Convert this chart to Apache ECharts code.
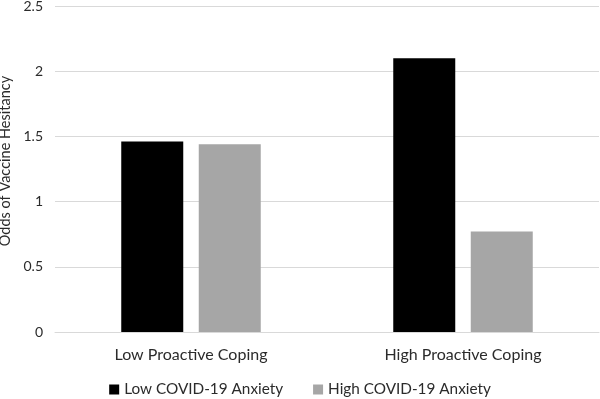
<!DOCTYPE html>
<html><head><meta charset="utf-8">
<script src="https://cdn.jsdelivr.net/npm/echarts@6/dist/echarts.min.js"></script>
<style>html,body{margin:0;padding:0;background:#fff}#c{width:600px;height:399px}</style>
</head><body><div id="c"></div>
<script>
const categories = ['Low Proactive Coping', 'High Proactive Coping'];
const lowAnxiety = [1.46, 2.10];
const highAnxiety = [1.44, 0.77];
const seriesNames = ['Low COVID-19 Anxiety', 'High COVID-19 Anxiety'];
const yTicks = { min: 0, max: 2.5, interval: 0.5 };

const font = 'Lato';
const txt = '#2b2b2b';
const chart = echarts.init(document.getElementById('c'), null, { renderer: 'canvas' });
chart.setOption({
  animation: false,
  backgroundColor: '#fff',
  textStyle: { fontFamily: font },
  grid: { left: 55, right: 1, top: 6, bottom: 67, containLabel: false, outerBoundsMode: 'none' },
  legend: {
    top: 377, left: 'center', itemWidth: 10, itemHeight: 10, itemGap: 30,
    icon: 'rect',
    textStyle: { fontFamily: font, fontSize: 15.3, color: txt },
    data: seriesNames
  },
  xAxis: {
    type: 'category', data: categories,
    axisLine: { show: true, lineStyle: { color: '#d9d9d9', width: 1 } },
    axisTick: { show: false },
    axisLabel: { fontFamily: font, fontSize: 16, color: txt, margin: 15 }
  },
  yAxis: {
    type: 'value', min: yTicks.min, max: yTicks.max, interval: yTicks.interval,
    name: 'Odds of Vaccine Hesitancy', nameLocation: 'middle', nameGap: 34,
    nameTextStyle: { fontFamily: font, fontSize: 14.5, color: txt, padding: [0, 0, 0, 16] },
    axisLine: { show: false }, axisTick: { show: false },
    axisLabel: { fontFamily: font, fontSize: 14, color: txt, margin: 12 },
    splitLine: { lineStyle: { color: '#d9d9d9', width: 1 } }
  },
  series: [
    { name: seriesNames[0], type: 'bar', data: lowAnxiety, barWidth: 62, barGap: '25%',
      itemStyle: { color: '#000000' } },
    { name: seriesNames[1], type: 'bar', data: highAnxiety, barWidth: 62,
      itemStyle: { color: '#a6a6a6' } }
  ]
});
</script></body></html>
